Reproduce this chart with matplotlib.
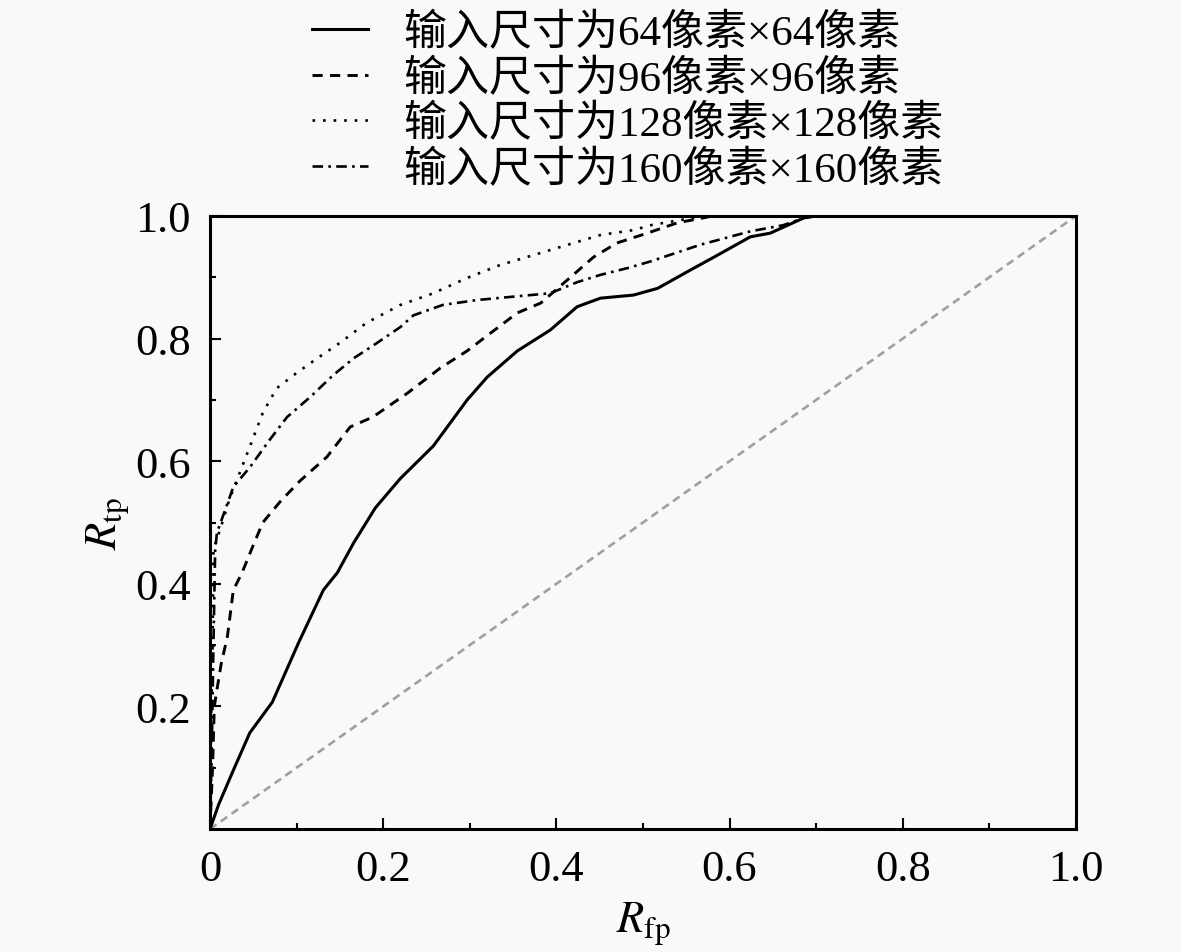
import matplotlib
matplotlib.use("Agg")
import matplotlib.pyplot as plt
from matplotlib.ticker import FixedLocator, MultipleLocator

plt.rcParams['font.family'] = ['Liberation Serif', 'Noto Sans CJK SC', 'DejaVu Sans']
plt.rcParams['mathtext.fontset'] = 'stix'

# ROC data
fpr64 = [0, 0.01, 0.027, 0.046, 0.072, 0.102, 0.131, 0.147, 0.166, 0.191, 0.22, 0.258, 0.297, 0.32,
         0.355, 0.393, 0.424, 0.451, 0.489, 0.517, 0.555, 0.586, 0.624, 0.647, 0.686, 0.70, 1.0]
tpr64 = [0, 0.04, 0.096, 0.157, 0.207, 0.303, 0.39, 0.418, 0.467, 0.524, 0.572, 0.625, 0.70, 0.737,
         0.78, 0.814, 0.852, 0.866, 0.871, 0.882, 0.912, 0.936, 0.966, 0.972, 0.997, 1.0, 1.0]

fpr96 = [0, 0.003, 0.005, 0.008, 0.013, 0.02, 0.027, 0.037, 0.05, 0.061, 0.081, 0.104, 0.135, 0.162,
         0.188, 0.228, 0.266, 0.297, 0.324, 0.355, 0.382, 0.413, 0.443, 0.47, 0.505, 0.54, 0.57, 0.58, 1.0]
tpr96 = [0, 0.1, 0.2, 0.227, 0.27, 0.313, 0.39, 0.418, 0.463, 0.5, 0.534, 0.568, 0.607, 0.656,
         0.672, 0.711, 0.752, 0.78, 0.809, 0.842, 0.858, 0.896, 0.933, 0.956, 0.972, 0.989, 0.997, 1.0, 1.0]

fpr128 = [0, 0.001, 0.003, 0.004, 0.012, 0.023, 0.045, 0.061, 0.077, 0.1, 0.124, 0.15, 0.181, 0.22,
          0.258, 0.297, 0.335, 0.373, 0.413, 0.451, 0.489, 0.509, 0.57, 1.0]
tpr128 = [0, 0.15, 0.3, 0.456, 0.49, 0.54, 0.62, 0.679, 0.719, 0.744, 0.768, 0.793, 0.826, 0.855,
          0.874, 0.899, 0.92, 0.936, 0.953, 0.969, 0.977, 0.985, 1.0, 1.0]

fpr160 = [0, 0.002, 0.004, 0.006, 0.008, 0.027, 0.046, 0.069, 0.089, 0.116, 0.142, 0.166, 0.193, 0.22,
          0.235, 0.269, 0.309, 0.347, 0.393, 0.424, 0.451, 0.482, 0.509, 0.566, 0.624, 0.662, 0.686, 0.70, 1.0]
tpr160 = [0, 0.12, 0.3, 0.455, 0.483, 0.558, 0.59, 0.635, 0.672, 0.705, 0.74, 0.768, 0.793, 0.819,
          0.838, 0.855, 0.863, 0.868, 0.874, 0.892, 0.904, 0.915, 0.926, 0.953, 0.975, 0.985, 0.997, 1.0, 1.0]

labels = ['输入尺寸为64像素×64像素', '输入尺寸为96像素×96像素',
          '输入尺寸为128像素×128像素', '输入尺寸为160像素×160像素']
xticks = [0, 0.2, 0.4, 0.6, 0.8, 1.0]
xticklabels = ['0', '0.2', '0.4', '0.6', '0.8', '1.0']
yticks = [0.2, 0.4, 0.6, 0.8, 1.0]
yticklabels = ['0.2', '0.4', '0.6', '0.8', '1.0']

bg = '#f9f9f9'
fig = plt.figure(figsize=(11.81, 9.53), dpi=100, facecolor=bg)
ax = fig.add_axes([0.1778, 0.129, 0.7332, 0.6433], facecolor=bg)

ax.plot([0, 1], [0, 1], color='#a0a0a0', lw=1.9, ls=(0, (3, 2)))
l1, = ax.plot(fpr64, tpr64, color='black', lw=2.2, ls='-')
l2, = ax.plot(fpr96, tpr96, color='black', lw=2.1, ls=(0, (3.5, 2.5)))
l3, = ax.plot(fpr128, tpr128, color='black', lw=1.9, ls=(0, (1, 3)))
l4, = ax.plot(fpr160, tpr160, color='black', lw=1.9, ls=(0, (4, 2, 1, 2)))

ax.set_xlim(0, 1)
ax.set_ylim(0, 1)
ax.xaxis.set_major_locator(FixedLocator(xticks))
ax.set_xticklabels(xticklabels)
ax.yaxis.set_major_locator(FixedLocator(yticks))
ax.set_yticklabels(yticklabels)
ax.xaxis.set_minor_locator(MultipleLocator(0.1))
ax.yaxis.set_minor_locator(MultipleLocator(0.1))
ax.tick_params(which='both', direction='in', top=False, right=False, labelsize=32, width=1.5)
ax.tick_params(which='major', length=8, pad=14)
ax.tick_params(which='minor', length=4)
for s in ax.spines.values():
    s.set_linewidth(2.2)

ax.set_xlabel(r'$R_{\rm fp}$', fontsize=32, labelpad=8)
ax.set_ylabel(r'$R_{\rm tp}$', fontsize=32, labelpad=2)

fig.legend([l1, l2, l3, l4], labels, loc='upper left', bbox_to_anchor=(0.239, 1.017),
           frameon=False, fontsize=31, handlelength=1.3, handletextpad=0.8,
           labelspacing=0.13, borderpad=0.2)

fig.savefig('out.png', dpi=100, facecolor=bg)
